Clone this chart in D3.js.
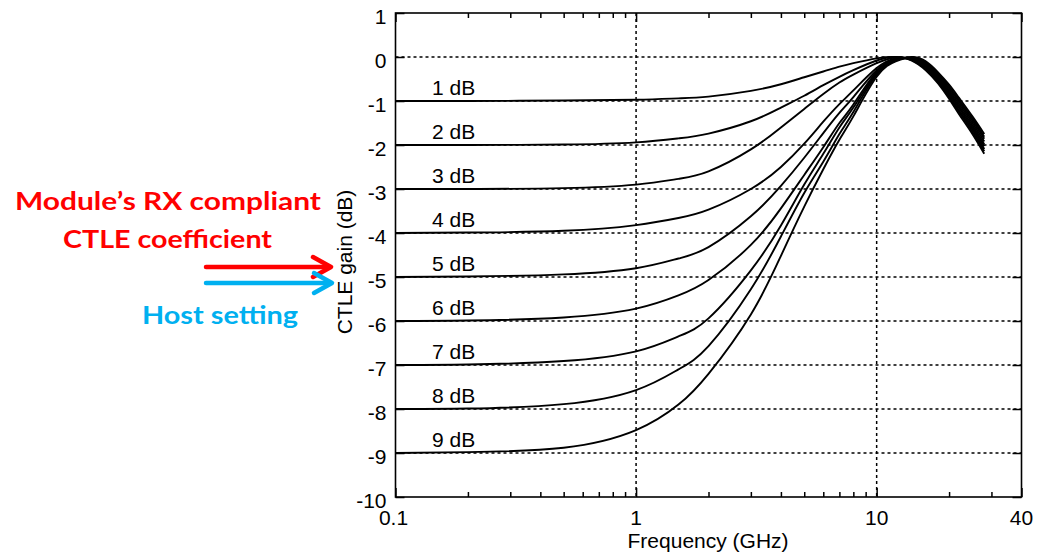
<!DOCTYPE html>
<html>
<head>
<meta charset="utf-8">
<script src="https://cdn.jsdelivr.net/npm/d3@7"></script>
<style>
  body { margin: 0; background: #fff; }
  svg { display: block; }
  .tick-label, .axis-title, .curve-label { font-family: "Liberation Sans", Arial, sans-serif; fill: #000; }
  .note { font-family: Lato, "Open Sans", sans-serif; font-weight: 700; }
</style>
</head>
<body>
<svg id="chart" width="1044" height="556"></svg>
<script>
// frequency points (GHz) shared by every curve
const freqGHz = [0.1, 0.2, 0.5, 1, 1.5, 2, 3, 4, 5, 6, 7, 8, 10, 12, 14, 16, 18, 20, 22, 25, 28];

// CTLE gain (dB), one array per peaking setting
const gain1dB = [-1.0, -1.0, -0.99, -0.97, -0.94, -0.9, -0.77, -0.62, -0.46, -0.33, -0.22, -0.14, -0.03, 0, -0.08, -0.3, -0.6, -0.95, -1.3, -1.75, -2.2];
const gain2dB = [-2.0, -2.0, -1.99, -1.94, -1.85, -1.74, -1.46, -1.15, -0.88, -0.64, -0.45, -0.3, -0.08, 0, -0.07, -0.275, -0.57, -0.91, -1.25, -1.7, -2.14];
const gain3dB = [-3.0, -3.0, -2.98, -2.9, -2.77, -2.6, -2.1, -1.6, -1.18, -0.84, -0.58, -0.4, -0.14, -0.01, -0.06, -0.25, -0.54, -0.87, -1.21, -1.65, -2.09];
const gain4dB = [-4.0, -3.99, -3.95, -3.82, -3.66, -3.47, -3.0, -2.5, -1.97, -1.47, -1.07, -0.76, -0.25, -0.03, -0.05, -0.225, -0.51, -0.83, -1.16, -1.6, -2.03];
const gain5dB = [-5.0, -4.99, -4.94, -4.8, -4.58, -4.32, -3.62, -2.93, -2.29, -1.73, -1.27, -0.91, -0.3, -0.05, -0.04, -0.2, -0.48, -0.79, -1.12, -1.55, -1.98];
const gain6dB = [-6.0, -5.99, -5.92, -5.72, -5.42, -5.07, -4.27, -3.44, -2.68, -2.05, -1.5, -1.08, -0.33, -0.06, -0.03, -0.175, -0.44, -0.75, -1.07, -1.5, -1.92];
const gain7dB = [-7.0, -6.99, -6.91, -6.69, -6.35, -5.94, -4.85, -3.83, -2.9, -2.2, -1.6, -1.15, -0.37, -0.07, -0.02, -0.15, -0.41, -0.71, -1.02, -1.45, -1.86];
const gain8dB = [-8.0, -7.99, -7.89, -7.57, -7.1, -6.57, -5.28, -4.08, -3.09, -2.38, -1.75, -1.25, -0.4, -0.08, -0.01, -0.125, -0.38, -0.67, -0.98, -1.4, -1.81];
const gain9dB = [-9.0, -8.98, -8.88, -8.48, -7.9, -7.2, -5.85, -4.52, -3.4, -2.55, -1.88, -1.35, -0.45, -0.1, 0, -0.1, -0.35, -0.63, -0.93, -1.35, -1.75];

const curveNames = ['1 dB', '2 dB', '3 dB', '4 dB', '5 dB', '6 dB', '7 dB', '8 dB', '9 dB'];
const curveGains = [gain1dB, gain2dB, gain3dB, gain4dB, gain5dB, gain6dB, gain7dB, gain8dB, gain9dB];
const curveDcLevels = [-1, -2, -3, -4, -5, -6, -7, -8, -9];

const xTickValues = [0.1, 1, 10, 40];
const xMinorTicks = [0.2, 0.3, 0.4, 0.5, 0.6, 0.7, 0.8, 0.9, 2, 3, 4, 5, 6, 7, 8, 9, 20, 30];
const xGridValues = [1, 10];
const yTickValues = [1, 0, -1, -2, -3, -4, -5, -6, -7, -8, -9, -10];
const yGridValues = [0, -1, -2, -3, -4, -5, -6, -7, -8, -9];

// notes and arrows on the left of the plot
const noteLines = [
  { text: 'Module\u2019s RX compliant', x: 15, y: 210, len: 306, color: '#ff0000' },
  { text: 'CTLE coefficient', x: 63, y: 248, len: 209, color: '#ff0000' },
  { text: 'Host setting', x: 142, y: 324, len: 156, color: '#00b0f0' }
];
const noteArrows = [
  { x0: 206, x1: 331, y: 267, color: '#ff0000' },
  { x0: 206, x1: 332, y: 283, color: '#00b0f0' }
];

const margin = { top: 13, right: 22.5, bottom: 59, left: 395.5 };
const width = 1044 - margin.left - margin.right;
const height = 556 - margin.top - margin.bottom;

const svg = d3.select('#chart');
const g = svg.append('g').attr('transform', `translate(${margin.left},${margin.top})`);

const xScale = d3.scaleLog().domain([0.1, 40]).range([0, width]);
const yScale = d3.scaleLinear().domain([-10, 1]).range([height, 0]);

// dotted grid
g.selectAll('.hgrid')
  .data(yGridValues)
  .enter()
  .append('line')
  .attr('class', 'hgrid')
  .attr('x1', 0)
  .attr('x2', width)
  .attr('y1', d => yScale(d))
  .attr('y2', d => yScale(d))
  .attr('stroke', '#000')
  .attr('stroke-width', 1.5)
  .attr('stroke-dasharray', '3,3');

g.selectAll('.vgrid')
  .data(xGridValues)
  .enter()
  .append('line')
  .attr('class', 'vgrid')
  .attr('x1', d => xScale(d))
  .attr('x2', d => xScale(d))
  .attr('y1', 0)
  .attr('y2', height)
  .attr('stroke', '#000')
  .attr('stroke-width', 1.5)
  .attr('stroke-dasharray', '3,3');

// axes with inward ticks
function styleAxis(sel) {
  sel.select('.domain').remove();
  sel.selectAll('.tick line').attr('stroke', '#000').attr('stroke-width', 1.5);
  sel.selectAll('.tick text').remove();
}

g.append('g')
  .attr('transform', `translate(0,${height})`)
  .call(d3.axisBottom(xScale).tickValues(xTickValues).tickSizeInner(-9).tickSizeOuter(0))
  .call(styleAxis);
g.append('g')
  .attr('transform', `translate(0,${height})`)
  .call(d3.axisBottom(xScale).tickValues(xMinorTicks).tickSizeInner(-5).tickSizeOuter(0))
  .call(styleAxis);
g.append('g')
  .call(d3.axisTop(xScale).tickValues(xTickValues).tickSizeInner(-9).tickSizeOuter(0))
  .call(styleAxis);
g.append('g')
  .call(d3.axisTop(xScale).tickValues(xMinorTicks).tickSizeInner(-5).tickSizeOuter(0))
  .call(styleAxis);
g.append('g')
  .call(d3.axisLeft(yScale).tickValues(yTickValues).tickSizeInner(-9).tickSizeOuter(0))
  .call(styleAxis);
g.append('g')
  .attr('transform', `translate(${width},0)`)
  .call(d3.axisRight(yScale).tickValues(yTickValues).tickSizeInner(-9).tickSizeOuter(0))
  .call(styleAxis);

// tick labels
g.selectAll('.xlab')
  .data(xTickValues)
  .enter()
  .append('text')
  .attr('class', 'tick-label')
  .attr('x', d => xScale(d) - (d === 0.1 ? 2 : 0))
  .attr('y', height + 28)
  .attr('text-anchor', 'middle')
  .attr('font-size', 21)
  .text(d => d3.format('~g')(d));

g.selectAll('.ylab')
  .data(yTickValues)
  .enter()
  .append('text')
  .attr('class', 'tick-label')
  .attr('x', -9)
  .attr('y', d => yScale(d) + 11)
  .attr('text-anchor', 'end')
  .attr('font-size', 21)
  .text(d => d);

// frame
g.append('rect')
  .attr('width', width)
  .attr('height', height)
  .attr('fill', 'none')
  .attr('stroke', '#000')
  .attr('stroke-width', 1.6);

// curves
const line = d3.line()
  .x((d, i) => xScale(freqGHz[i]))
  .y(d => yScale(d))
  .curve(d3.curveNatural);

g.selectAll('.curve')
  .data(curveGains)
  .enter()
  .append('path')
  .attr('class', 'curve')
  .attr('d', d => line(d))
  .attr('fill', 'none')
  .attr('stroke', '#000')
  .attr('stroke-width', 1.9);

g.selectAll('.curve-label')
  .data(curveNames)
  .enter()
  .append('text')
  .attr('class', 'curve-label')
  .attr('x', 36.5)
  .attr('y', (d, i) => yScale(curveDcLevels[i]) - 6)
  .attr('font-size', 21)
  .text(d => d);

// axis titles
g.append('text')
  .attr('class', 'axis-title')
  .attr('x', xScale(1) + 72)
  .attr('y', height + 51)
  .attr('text-anchor', 'middle')
  .attr('font-size', 21)
  .text('Frequency (GHz)');

svg.append('text')
  .attr('class', 'axis-title')
  .attr('transform', 'translate(352,262) rotate(-90)')
  .attr('text-anchor', 'middle')
  .attr('font-size', 21)
  .text('CTLE gain (dB)');

// left-side notes
svg.selectAll('.note')
  .data(noteLines)
  .enter()
  .append('text')
  .attr('class', 'note')
  .attr('x', d => d.x)
  .attr('y', d => d.y)
  .attr('font-size', 25)
  .attr('textLength', d => d.len)
  .attr('lengthAdjust', 'spacingAndGlyphs')
  .attr('fill', d => d.color)
  .text(d => d.text);

const arrows = svg.selectAll('.arrow')
  .data(noteArrows)
  .enter()
  .append('g')
  .attr('class', 'arrow')
  .attr('stroke', d => d.color)
  .attr('stroke-width', 4.5)
  .attr('stroke-linecap', 'round')
  .attr('stroke-linejoin', 'round')
  .attr('fill', 'none');

arrows.append('line')
  .attr('x1', d => d.x0)
  .attr('x2', d => d.x1 - 2)
  .attr('y1', d => d.y)
  .attr('y2', d => d.y);

arrows.append('path')
  .attr('d', d => `M${d.x1 - 18},${d.y - 10}L${d.x1},${d.y}L${d.x1 - 18},${d.y + 10}`);
</script>
</body>
</html>
